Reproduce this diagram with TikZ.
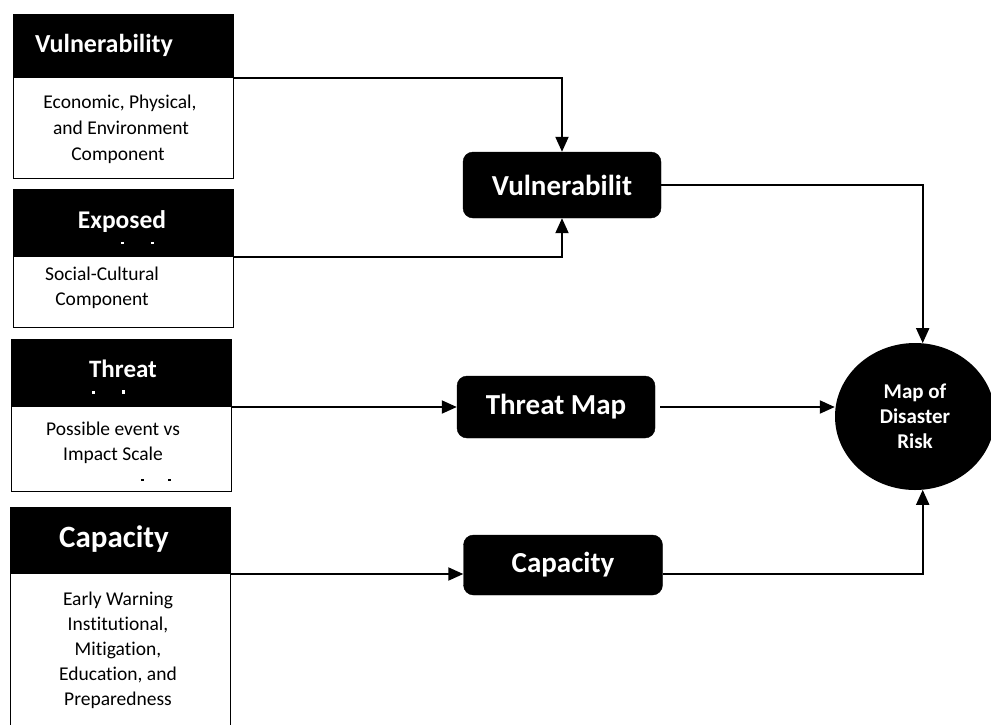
\documentclass[tikz,border=0pt]{standalone}
\usepackage{fontspec}
\setmainfont{Carlito}[RawFeature={-liga;-clig;-dlig}]
\usetikzlibrary{arrows.meta,shapes.geometric,calc}
\begin{document}
\begin{tikzpicture}[x=1pt,y=-1pt,
  hdr/.style={draw=black,fill=black,line width=1pt,anchor=north west,inner sep=0pt,minimum width=220pt},
  bodybox/.style={draw=black,fill=white,line width=1.4pt,anchor=north west,inner sep=0pt,minimum width=220pt},
  htext/.style={text=white,font=\bfseries\fontsize{#1}{#1}\selectfont,anchor=base,inner sep=0pt},
  btext/.style={font=\fontsize{19.5}{25}\selectfont,anchor=base,inner sep=0pt},
  midbox/.style={draw=black,fill=black,rounded corners=10pt,inner sep=0pt,text=white,font=\bfseries\fontsize{29}{29}\selectfont},
  conn/.style={line width=2pt,-{Triangle[length=15pt,width=13pt]}},
]
\clip (0,0) rectangle (991,724);
\fill[white] (0,0) rectangle (991,724);
% left column: bodies
\node[bodybox,minimum height=101pt] (b1b) at (13,77) {};
\node[bodybox,minimum height=71pt] (b2b) at (13,256) {};
\node[bodybox,minimum height=85pt] (b3b) at (11,406) {};
\node[bodybox,minimum height=170pt] (b4b) at (10,573) {};
% headers
\node[hdr,minimum height=63pt] (b1h) at (13,14) {};
\node[hdr,minimum height=67pt] (b2h) at (13,189) {};
\node[hdr,minimum height=67pt] (b3h) at (11,339) {};
\node[hdr,minimum height=66pt] (b4h) at (10,507) {};
% header texts
\node[htext=26] (t1) at (104,52) {Vulnerability};
\node[htext=25.5] (t2) at (122,228) {Exposed};
\node[htext=25] (t3) at (123,377) {Threat};
\node[htext=31] (t4) at (114,547) {Capacity};
% clipped remnants of hidden lines
\fill[white] (121,242) rectangle (124,244);
\fill[white] (151,242) rectangle (154,244);
\fill[white] (92,391) rectangle (95,394);
\fill[white] (122,390) rectangle (125,394);
\fill[black] (141,479) rectangle (144,481);
\fill[black] (168,479) rectangle (171,481);
% body texts
\node[btext] (l1a) at (120,108) {Economic, Physical,};
\node[btext] (l1b) at (121,134) {and Environment};
\node[btext] (l1c) at (118,160) {Component};
\node[btext] (l2a) at (102,280) {Social-Cultural};
\node[btext] (l2b) at (102,305) {Component};
\node[btext] (l3a) at (113,435) {Possible event vs};
\node[btext] (l3b) at (113,460) {Impact Scale};
\node[btext] (l4a) at (118,605) {Early Warning};
\node[btext] (l4b) at (118,630) {Institutional,};
\node[btext] (l4c) at (118,655) {Mitigation,};
\node[btext] (l4d) at (118,680) {Education, and};
\node[btext] (l4e) at (118,705) {Preparedness};
% middle boxes
\node[midbox,minimum width=198pt,minimum height=66pt] (vmid) at (562,185) {Vulnerabilit};
\node[midbox,minimum width=198pt,minimum height=62pt] (tmap) at (556,407) {Threat Map};
\node[midbox,minimum width=199pt,minimum height=60pt] (cap) at (563,565) {Capacity};
% circle
\node[ellipse,fill=black,minimum width=160pt,minimum height=147pt,inner sep=0pt,text=white,
  font=\bfseries\fontsize{21}{25}\selectfont,align=center] (circ) at (915,416.5) {Map of\\Disaster\\Risk};
% connectors
\draw[conn] (b1h.south east) -| (vmid.north);
\draw[conn] (b2h.south east) -| (vmid.south);
\draw[conn] (b3h.south east) -- (b3h.south east -| tmap.west);
\draw[conn] (b4h.south east) -- (b4h.south east -| cap.west);
\draw[conn] (vmid.east) -| (circ.84);
\draw[conn,shorten <=5pt] (tmap.east) -- (tmap.east -| circ.west);
\draw[conn] (b4h.south east -| cap.east) -| (circ.276);
\end{tikzpicture}
\end{document}
